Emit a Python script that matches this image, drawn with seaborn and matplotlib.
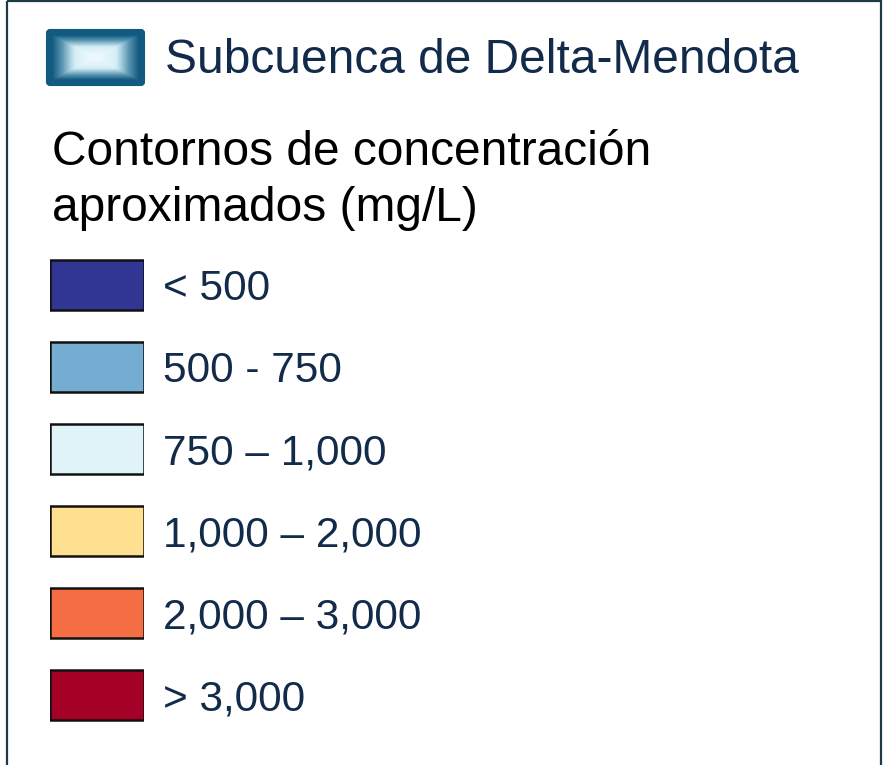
"""Legend panel: Delta-Mendota subbasin concentration contours."""
import numpy as np
import matplotlib
matplotlib.use("Agg")
import matplotlib.pyplot as plt
from matplotlib.colors import LinearSegmentedColormap
from matplotlib.patches import FancyBboxPatch, Rectangle
import seaborn as sns

# Data
titulo = 'Subcuenca de Delta-Mendota'
encabezado = ['Contornos de concentración', 'aproximados (mg/L)']
rangos = ['< 500', '500 - 750', '750 – 1,000', '1,000 – 2,000', '2,000 – 3,000', '> 3,000']
colores = ['#313695', '#74add1', '#e0f3f8', '#fee090', '#f46d43', '#a50026']

TXT_NAVY = '#132b4b'

sns.set_theme(style='white')
plt.rcParams['font.family'] = ['Liberation Sans', 'DejaVu Sans']

fig = plt.figure(figsize=(8.84, 7.65), dpi=100)
fig.patch.set_facecolor('white')

# main canvas in pixel coords
ax = fig.add_axes([0, 0, 1, 1])
ax.set_xlim(0, 884)
ax.set_ylim(765, 0)
ax.axis('off')

# outer frame (bottom runs off the picture)
ax.add_patch(Rectangle((7, 1), 874, 800, fill=False, edgecolor='#1d3b45', lw=1.6))

# subbasin swatch: rounded box with a rectangular shaded gradient
ax.add_patch(FancyBboxPatch((47, 30), 97, 55, boxstyle='round,pad=0,rounding_size=3',
                            facecolor='#135a81', edgecolor='#135a81', lw=1.5, zorder=2))
u = np.linspace(-1, 1, 120)
v = np.linspace(-1, 1, 70)
U, V = np.meshgrid(u, v)
s = np.maximum(np.abs(U), np.abs(V))
cmap_sub = LinearSegmentedColormap.from_list('sub', ['#eef9fc', '#d3eef5', '#5d98b4', '#135a81'])
ax.imshow(s ** 1.5, cmap=cmap_sub, extent=(52, 139, 80, 35), aspect='auto',
          interpolation='bilinear', zorder=3)
ax.text(165, 73, titulo, fontsize=34.5, color=TXT_NAVY, va='baseline', ha='left')

# heading
ax.text(52, 165, encabezado[0], fontsize=34.5, color='black', va='baseline')
ax.text(52, 221, encabezado[1], fontsize=34.5, color='black', va='baseline')

# concentration swatches
ax2 = fig.add_axes([50 / 884, 1 - 736 / 765, 94 / 884, 492 / 765])
sns.barplot(x=[1] * len(rangos), y=rangos, hue=rangos, palette=colores, legend=False,
            saturation=1, orient='h', width=0.62, edgecolor='#111111', linewidth=1.8, ax=ax2)
ax2.set_xlim(0, 1)
ax2.axis('off')
for i, lab in enumerate(rangos):
    ax2.text(1.2, i, lab, fontsize=30.5, color=TXT_NAVY, va='center_baseline', ha='left',
             clip_on=False)

fig.savefig('out.png', dpi=100)
